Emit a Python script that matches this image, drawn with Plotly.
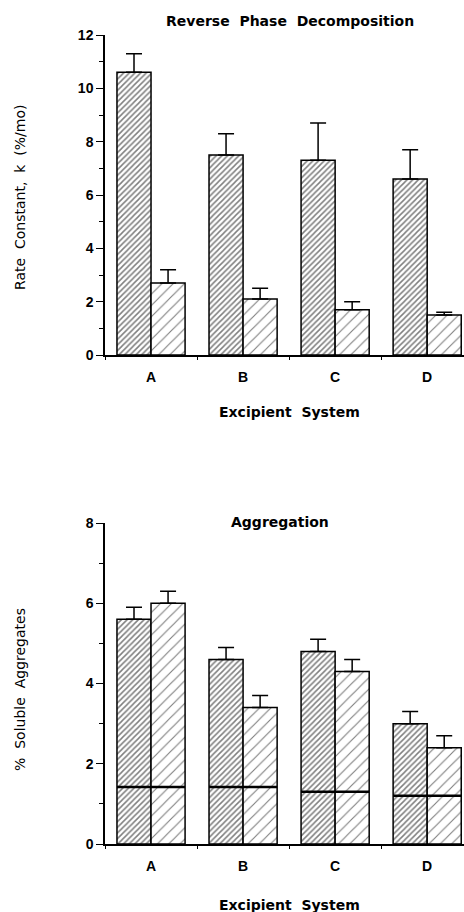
import plotly.graph_objects as go

categories = ["A", "B", "C", "D"]

# Reverse Phase Decomposition (rate constant, %/mo)
rp_dark = [10.6, 7.5, 7.3, 6.6]
rp_dark_err = [0.7, 0.8, 1.4, 1.1]
rp_light = [2.7, 2.1, 1.7, 1.5]
rp_light_err = [0.5, 0.4, 0.3, 0.1]

# Aggregation (% soluble aggregates)
agg_dark = [5.6, 4.6, 4.8, 3.0]
agg_dark_err = [0.3, 0.3, 0.3, 0.3]
agg_light = [6.0, 3.4, 4.3, 2.4]
agg_light_err = [0.3, 0.3, 0.3, 0.3]
agg_baseline = [1.42, 1.42, 1.3, 1.2]

W, H = 464, 912
FONT = "Liberation Sans, Arial, sans-serif"
TFONT = "DejaVu Sans, Verdana, sans-serif"

def bar(x, y, err, dense, xa, ya):
    return go.Bar(
        x=x, y=y, xaxis=xa, yaxis=ya, showlegend=False,
        marker=dict(
            color="white",
            line=dict(color="black", width=1.5),
            pattern=dict(shape="/", size=4 if dense else 8,
                         solidity=0.38 if dense else 0.14,
                         fgcolor="black", bgcolor="white"),
        ),
        error_y=dict(type="data", symmetric=False, array=err,
                     arrayminus=[0] * len(err), color="black",
                     thickness=1.5, width=8),
    )

fig = go.Figure()
fig.add_trace(bar(categories, rp_dark, rp_dark_err, True, "x", "y"))
fig.add_trace(bar(categories, rp_light, rp_light_err, False, "x", "y"))
fig.add_trace(bar(categories, agg_dark, agg_dark_err, True, "x2", "y2"))
fig.add_trace(bar(categories, agg_light, agg_light_err, False, "x2", "y2"))

# baseline lines across each pair of bars in the aggregation chart
half = (1 - 0.26) / 2
for i, v in enumerate(agg_baseline):
    fig.add_shape(type="line", xref="x2", yref="y2",
                  x0=i - half, x1=i + half, y0=v, y1=v,
                  line=dict(color="black", width=2.5))

x0 = 105 / W
top_dom = [(H - 355) / H, (H - 35) / H]
bot_dom = [(H - 844) / H, (H - 523) / H]

xcommon = dict(
    type="category", range=[-0.5, 3.4], showline=True, linecolor="black",
    linewidth=1.5, ticks="outside", tickson="boundaries", ticklen=3,
    tickcolor="black", showgrid=False, zeroline=False, automargin=False,
    tickfont=dict(family=FONT, size=14, color="black", weight="bold"),
    ticklabelstandoff=8,
)
ycommon = dict(
    showline=True, linecolor="black", linewidth=1.5, ticks="outside",
    ticklen=7, tickcolor="black", showgrid=False, zeroline=False,
    automargin=False,
    tickfont=dict(family=FONT, size=14, color="black", weight="bold"),
    dtick=2, minor=dict(ticks="outside", dtick=1, ticklen=4, tickcolor="black"),
)

fig.update_layout(
    width=W, height=H, margin=dict(l=0, r=0, t=0, b=0, pad=0),
    paper_bgcolor="white", plot_bgcolor="white",
    barmode="group", bargap=0.26, bargroupgap=0,
    xaxis=dict(domain=[x0, 1], anchor="y", **xcommon),
    yaxis=dict(domain=top_dom, anchor="x", range=[0, 12], **ycommon),
    xaxis2=dict(domain=[x0, 1], anchor="y2", **xcommon),
    yaxis2=dict(domain=bot_dom, anchor="x2", range=[0, 8], **ycommon),
)

def ann(text, x, y, size=14, bold=True, angle=0):
    fig.add_annotation(
        text=text, x=x / W, y=1 - y / H, xref="paper", yref="paper",
        showarrow=False, textangle=angle, xanchor="center", yanchor="middle",
        font=dict(family=TFONT, size=size, color="black",
                  weight="bold" if bold else "normal"),
    )

ann("Reverse  Phase  Decomposition", 290, 21)
ann("Excipient  System", 289, 412)
ann("Aggregation", 280, 522)
ann("Excipient  System", 289, 905)
ann("Rate  Constant,  k  (%/mo)", 20, 198, size=14, bold=False, angle=-90)
ann("%  Soluble  Aggregates", 20, 690, size=14, bold=False, angle=-90)

fig.write_html(
    "out.html",
    config={"displayModeBar": False},
    post_script="document.body.style.margin='0';document.body.style.overflow='hidden';",
)
